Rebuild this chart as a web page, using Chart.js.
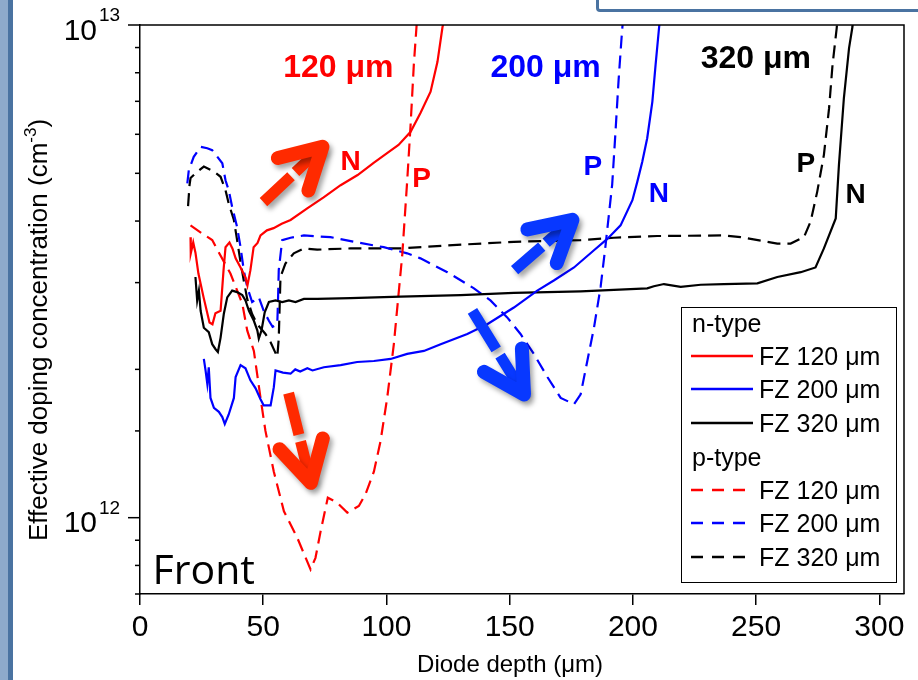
<!DOCTYPE html>
<html>
<head>
<meta charset="utf-8">
<script src="https://cdn.jsdelivr.net/npm/chart.js@4.4.1/dist/chart.umd.min.js"></script>
<style>
  html, body { margin: 0; padding: 0; background: #fff; }
  #wrap { position: relative; width: 918px; height: 680px; overflow: hidden; background: #fff; }
  #slideEdge { position: absolute; left: 0; top: 0; width: 13px; height: 680px;
    background: linear-gradient(to right, #8eaacb 0, #8eaacb 8px, #4a73a1 8px, #4a73a1 13px); }
  #slideBox { position: absolute; left: 596px; top: -20px; width: 340px; height: 26px;
    border: 3px solid #4a73a1; border-radius: 4px; background: #fff; }
</style>
</head>
<body>
<div id="wrap">
  <canvas id="chart" width="918" height="680"></canvas>
  <div id="slideEdge"></div>
  <div id="slideBox"></div>
</div>
<script>
// depth (um), effective doping (x 1e12 cm^-3)
const UNIT = 1e12;

const nFZ120 = [
  [20.5,3.71],[20.6,3.44],[21.6,3.62],[22.5,3.45],[23.7,3.13],[25.8,2.80],[28.2,2.49],[29.4,2.47],
  [30.6,2.60],[32.7,2.63],[33.9,3.18],[34.7,3.54],[36.3,3.62],[37.5,3.52],[38.8,3.36],[40.8,3.22],
  [42.8,3.07],[43.6,2.96],[44.8,3.18],[46.1,3.54],[47.7,3.61],[48.9,3.74],[51.5,3.83],[54.2,3.87],
  [57.5,3.95],[61.1,4.02],[68.0,4.25],[74.5,4.47],[81.4,4.73],[88.3,4.96],[94.8,5.25],[100.4,5.50],
  [104.9,5.71],[109.8,6.07],[113.8,6.63],[117.9,7.32],[120.7,8.42],[122.7,9.87],[123.4,10.3]
];
const nFZ200 = [
  [25.9,2.10],[26.6,1.99],[27.3,1.87],[27.9,2.02],[28.6,1.75],[30.0,1.67],[32.0,1.64],[33.4,1.60],
  [34.4,1.55],[36.0,1.62],[38.1,1.75],[38.8,1.93],[40.8,2.04],[42.8,2.01],[44.8,1.90],[46.9,1.83],
  [48.9,1.74],[50.2,1.69],[53.0,1.69],[54.3,1.84],[55.0,1.99],[58.0,1.97],[61.1,1.96],[63.0,2.00],
  [65.0,1.98],[67.9,2.01],[70.0,1.99],[74.6,2.02],[81.4,2.04],[88.1,2.07],[94.9,2.08],[101.7,2.10],
  [108.4,2.15],[115.2,2.18],[122.0,2.25],[132.8,2.36],[140.9,2.47],[151.7,2.67],[161.2,2.89],
  [167.9,3.03],[176.1,3.22],[184.2,3.49],[189.6,3.68],[195.0,3.92],[199.8,4.41],[201.8,4.81],
  [203.8,5.28],[205.8,5.89],[207.9,6.99],[209.2,8.30],[210.6,9.86],[211.0,10.3]
];
const nFZ320 = [
  [22.5,3.08],[23.2,2.76],[23.9,2.89],[24.6,2.63],[25.9,2.43],[27.9,2.38],[29.3,2.25],[30.6,2.20],
  [31.6,2.17],[32.7,2.32],[34.0,2.59],[35.4,2.80],[37.4,2.89],[39.4,2.87],[41.5,2.83],[42.8,2.76],
  [44.2,2.63],[46.2,2.51],[47.6,2.40],[48.2,2.31],[49.3,2.40],[50.6,2.61],[52.3,2.74],[55.0,2.76],
  [57.7,2.74],[60.4,2.76],[63.1,2.74],[66.5,2.78],[71.9,2.78],[85.4,2.79],[105.7,2.81],[130.1,2.83],
  [151.7,2.86],[178.8,2.88],[205.8,2.92],[208.5,2.95],[212.6,2.98],[219.4,2.94],[227.5,2.97],
  [236.9,2.98],[250.5,2.99],[258.6,3.08],[268.1,3.15],[274.1,3.22],[277.5,3.52],[282.3,4.05],
  [283.6,5.20],[285.6,7.10],[287.7,8.98],[289.1,9.93],[289.4,10.3]
];
const pFZ120 = [
  [20.5,3.92],[25.0,3.78],[29.3,3.66],[31.9,3.46],[36.7,3.13],[41.5,2.72],[43.5,2.40],[46.2,2.18],
  [48.9,1.75],[50.9,1.50],[54.3,1.24],[58.4,1.03],[63.8,0.911],[69.2,0.785],[71.2,0.829],[73.3,0.939],
  [76.2,1.098],[80.0,1.073],[84.1,1.024],[88.8,1.056],[91.5,1.116],[94.9,1.24],[97.6,1.43],
  [100.3,1.75],[103.0,2.25],[106.4,3.41],[108.4,4.81],[109.8,6.27],[111.1,8.30],[112.2,9.93],[112.4,10.3]
];
const pFZ200 = [
  [19.2,4.77],[19.8,5.07],[21.8,5.40],[24.6,5.66],[27.3,5.62],[29.3,5.57],[33.4,5.24],[34.7,4.84],
  [36.0,4.62],[37.4,4.27],[39.4,3.89],[40.8,3.54],[42.1,3.18],[43.5,2.94],[45.5,2.74],[48.2,2.80],
  [50.2,2.63],[52.3,2.51],[53.8,2.44],[55.7,2.47],[56.0,2.76],[56.3,3.18],[57.7,3.66],[61.1,3.70],
  [66.5,3.74],[77.3,3.71],[86.8,3.63],[98.9,3.54],[108.4,3.44],[113.8,3.36],[124.7,3.15],[135.5,2.92],
  [142.2,2.76],[149.0,2.55],[154.4,2.36],[159.8,2.15],[165.3,1.93],[170.7,1.75],[176.1,1.70],
  [178.8,1.78],[181.5,2.08],[184.2,2.43],[186.9,2.94],[188.9,3.57],[191.6,4.75],[192.9,6.03],
  [194.2,7.74],[195.4,9.42],[195.8,10.0]
];
const pFZ320 = [
  [19.5,4.29],[20.1,4.73],[20.5,4.89],[22.5,5.00],[25.9,5.16],[30.0,5.04],[32.7,4.92],[34.7,4.62],
  [36.0,4.34],[38.1,4.02],[39.4,3.66],[40.8,3.30],[42.1,3.03],[43.5,2.78],[45.5,2.59],[47.6,2.47],
  [50.9,2.36],[53.0,2.27],[55.7,2.12],[56.3,2.31],[57.0,3.08],[59.0,3.28],[62.4,3.44],[66.5,3.52],
  [71.9,3.50],[85.4,3.52],[105.7,3.52],[124.7,3.57],[151.7,3.63],[178.8,3.66],[192.3,3.70],
  [209.9,3.73],[236.9,3.74],[243.7,3.71],[258.6,3.60],[264.0,3.60],[269.4,3.71],[272.1,3.99],
  [274.8,4.59],[277.5,5.45],[279.6,6.78],[281.0,8.30],[282.7,9.86],[283.0,10.3]
];

const seriesLabels = ['FZ 120 \u03bcm', 'FZ 200 \u03bcm', 'FZ 320 \u03bcm'];
const xTicks = [0, 50, 100, 150, 200, 250, 300];

const FONT = '"Liberation Sans", Arial, Helvetica, sans-serif';
const RED = '#ff0000', BLUE = '#0000ff', BLACK = '#000000';
const DASH = [13, 7];

const toPoints = arr => arr.map(p => ({ x: p[0], y: p[1] * UNIT }));

function line(label, arr, color, dashed) {
  return {
    label: label,
    data: toPoints(arr),
    borderColor: color,
    borderWidth: 2.2,
    borderDash: dashed ? DASH : [],
    pointRadius: 0,
    tension: 0,
    fill: false
  };
}

// annotation text, anchored in data coords (x um, y x1e12)
const notes = [
  { text: '120 \u03bcm', x: 58.1, y: 7.85, color: RED, size: 32 },
  { text: '200 \u03bcm', x: 142.2, y: 7.85, color: BLUE, size: 32 },
  { text: '320 \u03bcm', x: 227.5, y: 8.17, color: BLACK, size: 32 },
  { text: 'N', x: 81.4, y: 5.08, color: RED, size: 28 },
  { text: 'P', x: 110.5, y: 4.69, color: RED, size: 28 },
  { text: 'P', x: 180.0, y: 4.96, color: BLUE, size: 28 },
  { text: 'N', x: 206.4, y: 4.38, color: BLUE, size: 28 },
  { text: 'P', x: 266.4, y: 5.02, color: BLACK, size: 28 },
  { text: 'N', x: 286.3, y: 4.36, color: BLACK, size: 28 }
];
const arrows = [
  { from: [50.1, 4.37], to: [76.1, 5.79], color: '#ff2a00' },
  { from: [60.3, 1.79], to: [70.0, 1.14], color: '#ff2a00' },
  { from: [152.0, 3.18], to: [177.6, 4.11], color: '#0838ff' },
  { from: [134.9, 2.63], to: [157.3, 1.73], color: '#0838ff' }
];

function drawArrow(ctx, x0, y0, x1, y1, color) {
  const dx = x1 - x0, dy = y1 - y0, L = Math.hypot(dx, dy);
  const ux = dx / L, uy = dy / L;
  const tx = x1 - ux * 7, ty = y1 - uy * 7;
  ctx.save();
  ctx.shadowColor = 'rgba(0,0,0,0.35)';
  ctx.shadowBlur = 5;
  ctx.shadowOffsetX = 3;
  ctx.shadowOffsetY = 4;
  ctx.strokeStyle = color;
  ctx.lineWidth = 11;
  ctx.lineCap = 'butt';
  ctx.beginPath();
  ctx.moveTo(x0, y0);
  ctx.lineTo(x0 + ux * L * 0.43, y0 + uy * L * 0.43);
  ctx.moveTo(x0 + ux * L * 0.5, y0 + uy * L * 0.5);
  ctx.lineTo(tx, ty);
  ctx.stroke();
  const back = Math.atan2(-uy, -ux), s = 29 * Math.PI / 180, arm = 46;
  ctx.lineWidth = 14;
  ctx.lineCap = 'round';
  ctx.lineJoin = 'round';
  ctx.beginPath();
  ctx.moveTo(tx + arm * Math.cos(back + s), ty + arm * Math.sin(back + s));
  ctx.lineTo(tx, ty);
  ctx.lineTo(tx + arm * Math.cos(back - s), ty + arm * Math.sin(back - s));
  ctx.stroke();
  ctx.restore();
}

const decorations = {
  id: 'decorations',
  afterDraw(chart) {
    const ctx = chart.ctx, a = chart.chartArea;
    const xs = chart.scales.x, ys = chart.scales.y;
    ctx.save();

    // frame top and right
    ctx.strokeStyle = '#000';
    ctx.lineWidth = 1.5;
    ctx.beginPath();
    ctx.moveTo(a.left, a.top);
    ctx.lineTo(a.right, a.top);
    ctx.lineTo(a.right, a.bottom);
    ctx.stroke();

    // y ticks, log minor/major
    ys.ticks.forEach(t => {
      const py = ys.getPixelForValue(t.value);
      const lg = Math.log10(t.value);
      const major = Math.abs(lg - Math.round(lg)) < 1e-6;
      ctx.beginPath();
      ctx.moveTo(a.left - (major ? 12 : 5), py);
      ctx.lineTo(a.left, py);
      ctx.stroke();
      if (major) {
        ctx.fillStyle = '#000';
        ctx.textBaseline = 'alphabetic';
        ctx.textAlign = 'right';
        ctx.font = '30px ' + FONT;
        ctx.fillText('10', a.left - 43, py + 14.5);
        ctx.textAlign = 'left';
        ctx.font = '19px ' + FONT;
        ctx.fillText(String(Math.round(lg)), a.left - 41, py - 4);
      }
    });

    // axis titles
    ctx.fillStyle = '#000';
    ctx.font = '24px ' + FONT;
    ctx.textAlign = 'center';
    ctx.textBaseline = 'alphabetic';
    ctx.fillText('Diode depth (\u03bcm)', 510, 672);

    ctx.save();
    ctx.translate(47, 330);
    ctx.rotate(-Math.PI / 2);
    const main = 'Effective doping concentration (cm';
    ctx.font = '26px ' + FONT;
    const w1 = ctx.measureText(main).width;
    ctx.font = '17px ' + FONT;
    const w2 = ctx.measureText('-3').width;
    ctx.font = '26px ' + FONT;
    const w3 = ctx.measureText(')').width;
    let cx = -(w1 + w2 + w3) / 2;
    ctx.textAlign = 'left';
    ctx.fillText(main, cx, 0);
    cx += w1;
    ctx.font = '17px ' + FONT;
    ctx.fillText('-3', cx, -11);
    cx += w2;
    ctx.font = '26px ' + FONT;
    ctx.fillText(')', cx, 0);
    ctx.restore();

    // annotations
    ctx.textAlign = 'left';
    ctx.textBaseline = 'alphabetic';
    notes.forEach(n => {
      ctx.fillStyle = n.color;
      ctx.font = 'bold ' + n.size + 'px ' + FONT;
      ctx.fillText(n.text, xs.getPixelForValue(n.x), ys.getPixelForValue(n.y * UNIT));
    });
    ctx.fillStyle = '#000';
    ctx.font = '41px "Open Sans", ' + FONT;
    ctx.fillText('Front', xs.getPixelForValue(5.1), ys.getPixelForValue(0.733 * UNIT));

    arrows.forEach(ar => {
      drawArrow(ctx,
        xs.getPixelForValue(ar.from[0]), ys.getPixelForValue(ar.from[1] * UNIT),
        xs.getPixelForValue(ar.to[0]), ys.getPixelForValue(ar.to[1] * UNIT), ar.color);
    });

    // legend box
    const bx = a.right - 223, by = a.bottom - 287, bw = 215, bh = 275;
    ctx.fillStyle = '#fff';
    ctx.fillRect(bx, by, bw, bh);
    ctx.strokeStyle = '#000';
    ctx.lineWidth = 1;
    ctx.strokeRect(bx + 0.5, by + 0.5, bw, bh);
    const rows = [16, 49, 82, 116, 150, 183, 216, 250];
    const ds = chart.data.datasets;
    const entries = [
      { head: 'n-type' }, { ds: ds[0] }, { ds: ds[1] }, { ds: ds[2] },
      { head: 'p-type' }, { ds: ds[3] }, { ds: ds[4] }, { ds: ds[5] }
    ];
    ctx.font = '25px ' + FONT;
    entries.forEach((e, i) => {
      const ry = by + rows[i];
      ctx.fillStyle = '#000';
      if (e.head) {
        ctx.fillText(e.head, bx + 11, ry + 9);
        return;
      }
      ctx.strokeStyle = e.ds.borderColor;
      ctx.lineWidth = 2.5;
      ctx.setLineDash(e.ds.borderDash.length ? [12, 9] : []);
      ctx.beginPath();
      ctx.moveTo(bx + 10, ry);
      ctx.lineTo(bx + 72, ry);
      ctx.stroke();
      ctx.setLineDash([]);
      ctx.fillText(e.ds.label, bx + 78, ry + 9);
    });

    ctx.restore();
  }
};

new Chart(document.getElementById('chart').getContext('2d'), {
  type: 'line',
  data: {
    datasets: [
      line(seriesLabels[0], nFZ120, RED, false),
      line(seriesLabels[1], nFZ200, BLUE, false),
      line(seriesLabels[2], nFZ320, BLACK, false),
      line(seriesLabels[0], pFZ120, RED, true),
      line(seriesLabels[1], pFZ200, BLUE, true),
      line(seriesLabels[2], pFZ320, BLACK, true)
    ]
  },
  options: {
    responsive: false,
    animation: false,
    layout: { padding: { left: 0, top: 25, right: 14, bottom: 0 } },
    plugins: {
      legend: { display: false },
      tooltip: { enabled: false }
    },
    scales: {
      x: {
        type: 'linear',
        min: 0,
        max: 310,
        afterFit: s => { s.height = 86; },
        afterBuildTicks: s => { s.ticks = xTicks.map(v => ({ value: v })); },
        grid: { display: true, drawOnChartArea: false, drawTicks: true, tickLength: 11, color: '#000', lineWidth: 1.5 },
        border: { display: true, color: '#000', width: 1.5 },
        ticks: { color: '#000', font: { family: FONT, size: 30 }, padding: 5, maxRotation: 0 }
      },
      y: {
        type: 'logarithmic',
        min: 7e11,
        max: 1e13,
        afterFit: s => { s.width = 140; },
        grid: { display: false },
        border: { display: true, color: '#000', width: 1.5 },
        ticks: { display: false }
      }
    }
  },
  plugins: [decorations]
});
</script>
</body>
</html>
